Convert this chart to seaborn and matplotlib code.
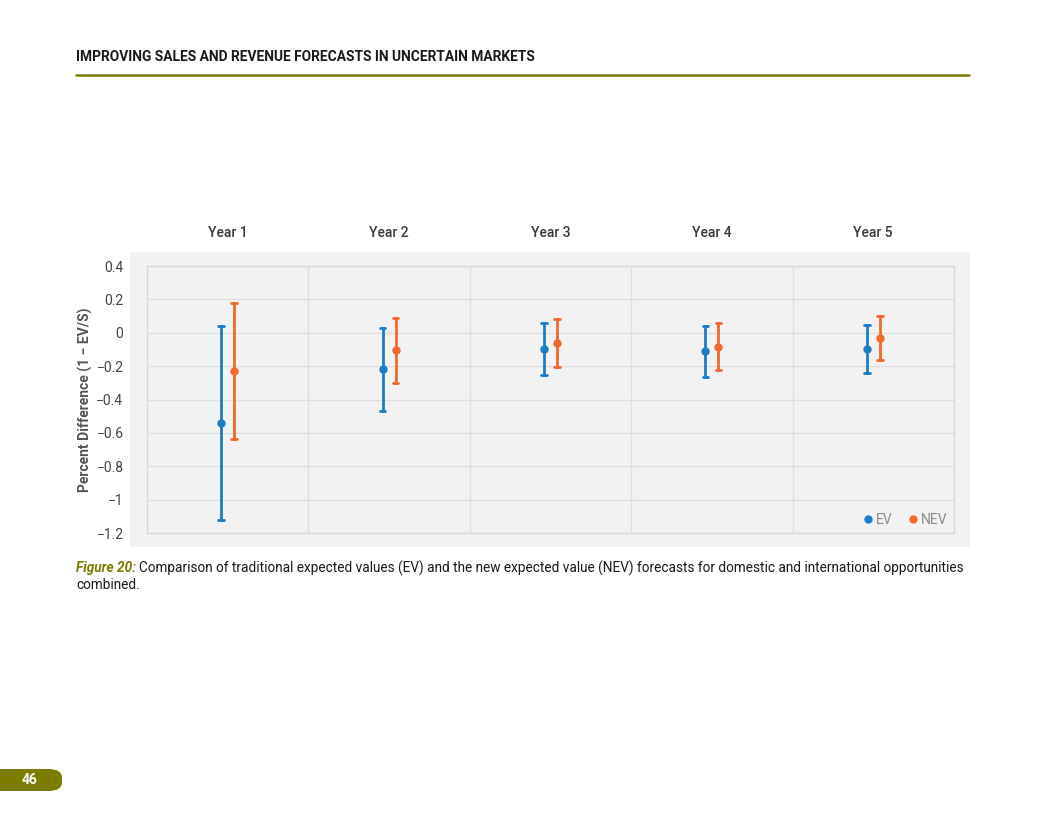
import numpy as np
import pandas as pd
import matplotlib
matplotlib.use("Agg")
import matplotlib.pyplot as plt
from matplotlib.patches import Rectangle, FancyBboxPatch
from matplotlib.lines import Line2D
import seaborn as sns

years = ["Year 1", "Year 2", "Year 3", "Year 4", "Year 5"]
ev_mid = [-0.54, -0.22, -0.10, -0.11, -0.10]
ev_low = [-1.12, -0.47, -0.255, -0.265, -0.243]
ev_high = [0.042, 0.027, 0.058, 0.039, 0.045]
nev_mid = [-0.23, -0.105, -0.061, -0.083, -0.031]
nev_low = [-0.637, -0.301, -0.203, -0.225, -0.163]
nev_high = [0.176, 0.09, 0.084, 0.058, 0.10]
yticks = [0.4, 0.2, 0, -0.2, -0.4, -0.6, -0.8, -1, -1.2]

rows = []
for i, y in enumerate(years):
    for v in (ev_low[i], ev_mid[i], ev_high[i]):
        rows.append({"Year": y, "Series": "EV", "value": v})
    for v in (nev_low[i], nev_mid[i], nev_high[i]):
        rows.append({"Year": y, "Series": "NEV", "value": v})
df = pd.DataFrame(rows)

sns.set_theme(style="white")
plt.rcParams["font.family"] = ["Roboto", "DejaVu Sans"]

W, H = 1045, 825
fig = plt.figure(figsize=(W / 100, H / 100), dpi=100)

def fx(x):
    return x / W

def fy(y):
    return 1 - y / H

# panel background (separate axes underneath)
bg = fig.add_axes([fx(130), fy(547), fx(970) - fx(130), fy(252) - fy(547)], zorder=-5)
bg.set_facecolor("#f2f2f2")
bg.set_xticks([])
bg.set_yticks([])
for s in bg.spines.values():
    s.set_visible(False)

ax = fig.add_axes([fx(147), fy(533), fx(954) - fx(147), fy(266) - fy(533)], zorder=1)
ax.set_facecolor("#f2f2f2")

blue = "#1a7dc6"
orange = "#f26a2b"
sns.pointplot(data=df, x="Year", y="value", hue="Series", order=years,
              hue_order=["EV", "NEV"], palette=[blue, orange],
              estimator="median", errorbar=("pi", 100), dodge=0.08,
              linestyle="none", markers="o", markersize=4, capsize=0.035,
              err_kws={"linewidth": 2}, ax=ax, legend=False)

ax.set_xlim(-0.5, 4.5)
ax.set_ylim(-1.2, 0.4)
ax.set_yticks(yticks)
ax.set_yticklabels([("%g" % t).replace("-", "\u2212") for t in yticks],
                   fontsize=10, color="#444444")
ax.tick_params(axis="y", length=0, pad=17)
ax.set_xticks([])
ax.set_xlabel("")
ax.set_ylabel("Percent Difference (1 \u2212 EV/S)", fontsize=10, fontweight="bold",
              color="#555555", labelpad=2)
for t in yticks:
    ax.axhline(t, color="#dedede", linewidth=1, zorder=0)
for xv in [0.5, 1.5, 2.5, 3.5]:
    ax.axvline(xv, color="#dedede", linewidth=1, zorder=0)
for s in ax.spines.values():
    s.set_color("#d9d9d9")
    s.set_linewidth(1)

# column headers
for i, y in enumerate(years):
    ax.text(i, 1.0 + 33 / 267, y, transform=ax.get_xaxis_transform(),
            ha="center", va="center", fontsize=10, fontweight="medium", color="#3a3a3a")

# legend
handles = [Line2D([], [], marker="o", linestyle="none", color=blue, markersize=5),
           Line2D([], [], marker="o", linestyle="none", color=orange, markersize=5)]
leg = ax.legend(handles, ["EV", "NEV"], loc="lower right", ncol=2, frameon=False,
                handletextpad=0.05, handlelength=1.1, columnspacing=0.9, fontsize=10,
                bbox_to_anchor=(1.0, 0.0), borderaxespad=0.05)
for t in leg.get_texts():
    t.set_color("#8a8a8a")

# header
fig.text(fx(76), fy(57), "IMPROVING SALES AND REVENUE FORECASTS IN UNCERTAIN MARKETS",
         fontsize=9.9, fontweight="bold", color="#1a1a1a", va="center", ha="left")
fig.add_artist(Line2D([fx(76), fx(969)], [fy(75), fy(75)], color="#7c7c00",
                      linewidth=1.8, transform=fig.transFigure))

# caption
olive = "#7c7c00"
t1 = fig.text(fx(76), fy(568), "Figure 20:", fontsize=9.8, fontweight="bold",
              fontstyle="italic", color=olive, va="center", ha="left")
fig.canvas.draw()
bb = t1.get_window_extent()
fig.text(bb.x1 / W + fx(3), fy(568),
         "Comparison of traditional expected values (EV) and the new expected value (NEV) forecasts for domestic and international opportunities",
         fontsize=9.8, color="#1a1a1a", va="center", ha="left")
fig.text(fx(76), fy(585), "combined.", fontsize=9.8, color="#1a1a1a", va="center", ha="left")

# page badge
fig.patches.append(FancyBboxPatch((fx(-20), fy(791)), fx(82), fy(769) - fy(791),
                                  boxstyle="round,pad=0,rounding_size=0.013",
                                  transform=fig.transFigure, facecolor="#7c7c00",
                                  edgecolor="none", mutation_aspect=0.8))
fig.text(fx(30), fy(780), "46", fontsize=10, fontweight="bold", color="white",
         ha="center", va="center")

fig.savefig("out.png", dpi=100)
